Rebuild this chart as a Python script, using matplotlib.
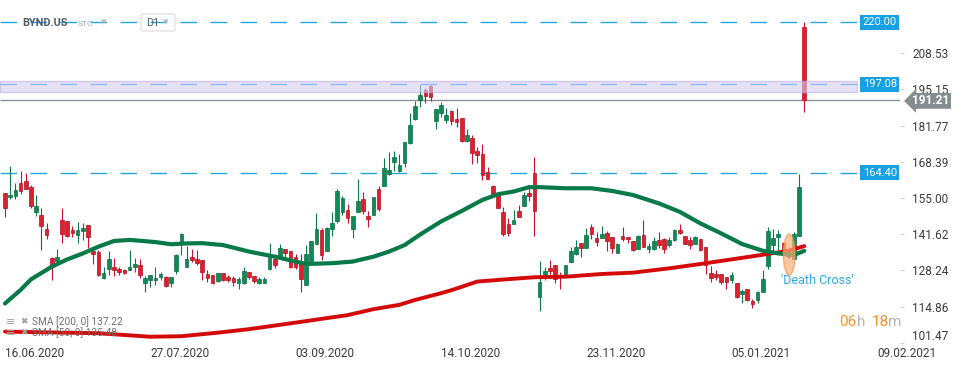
import numpy as np
import matplotlib.pyplot as plt
from matplotlib.patches import Rectangle, Ellipse, FancyBboxPatch

plt.rcParams['font.family'] = ['Roboto', 'DejaVu Sans']

# daily candles, BYND.US D1
opens = [156.7, 155.2, 155.9, 160.4, 161.2, 158.9, 149.95, 148.6, 143.4, 132.7,
         131.8, 146.7, 146.4, 143.2, 141.5, 142.9, 145.1, 135.4, 134.9, 125.5,
         128.6, 129.4, 128.6, 128.3, 128.5, 129.6, 130.1, 123.5, 124.8, 124.5,
         125.9, 125.9, 123.7, 128.1, 137.9, 129.6, 133.3, 132.3, 132.0, 126.8,
         126.4, 124.2, 127.3, 125.8, 125.3, 123.7, 123.7, 127.7, 126.2, 123.7,
         123.7, 128.8, 132.3, 133.7, 136.0, 135.3, 133.1, 131.0, 123.0, 131.8,
         138.1, 143.2, 135.5, 143.7, 146.6, 150.0, 150.6, 143.7, 150.0, 154.6,
         148.5, 148.7, 158.5, 159.4, 164.0, 168.4, 165.1, 167.8, 175.2, 184.2,
         191.2, 194.9, 196.4, 183.6, 186.3, 183.8, 187.0, 184.2, 184.4, 176.2,
         177.1, 172.4, 171.3, 164.5, 159.4, 156.1, 149.7, 145.4, 145.5, 150.2,
         152.2, 156.7, 164.1, 118.5, 126.4, 129.0, 130.1, 126.6, 126.2, 131.5,
         134.2, 138.3, 136.4, 144.3, 140.2, 140.1, 141.9, 140.5, 134.8, 141.0,
         140.5, 139.0, 136.0, 141.2, 136.0, 136.3, 139.5, 139.7, 137.6, 139.5,
         143.2, 141.0, 139.4, 138.1, 139.7, 136.8, 127.2, 126.9, 126.8, 125.8,
         124.7, 123.5, 119.4, 121.2, 116.9, 117.2, 120.4, 129.9, 137.8, 140.7,
         138.2, 136.0, 132.5, 141.1, 218.3]
highs = [157.0, 166.8, 160.4, 164.9, 164.1, 159.7, 156.0, 151.2, 145.6, 133.3,
         136.0, 151.2, 146.4, 144.7, 146.0, 145.9, 145.1, 136.4, 135.8, 129.4,
         135.5, 132.7, 129.4, 128.9, 135.8, 132.7, 132.5, 126.0, 126.7, 129.4,
         127.8, 126.0, 125.7, 134.2, 141.9, 137.3, 136.0, 135.8, 132.0, 128.4,
         126.4, 127.2, 127.3, 126.6, 126.2, 125.9, 129.4, 127.7, 126.2, 125.8,
         125.8, 138.3, 134.3, 138.0, 136.0, 135.3, 134.3, 134.3, 137.6, 139.0,
         149.3, 143.8, 144.4, 149.7, 158.5, 155.7, 152.8, 148.4, 162.0, 157.1,
         150.2, 155.4, 159.4, 169.8, 172.1, 172.5, 171.3, 175.7, 186.5, 191.0,
         196.6, 195.5, 196.8, 187.9, 190.4, 188.1, 187.5, 188.3, 184.4, 180.4,
         178.2, 174.0, 175.0, 166.3, 159.7, 157.0, 151.7, 147.5, 150.6, 152.4,
         157.2, 158.9, 170.2, 131.7, 129.5, 132.0, 130.1, 127.7, 130.2, 136.8,
         139.5, 138.5, 143.9, 145.4, 142.4, 144.6, 142.9, 140.5, 138.2, 144.2,
         140.5, 139.0, 141.2, 146.9, 138.5, 140.7, 142.4, 140.1, 140.5, 143.5,
         145.3, 141.0, 140.5, 141.0, 139.7, 136.8, 129.9, 128.4, 126.8, 125.8,
         127.6, 123.5, 121.2, 121.2, 117.5, 120.5, 128.3, 144.4, 143.4, 143.2,
         138.9, 137.0, 142.6, 163.9, 220.0]
lows = [147.9, 154.5, 154.6, 156.5, 158.2, 151.4, 148.5, 135.8, 139.9, 124.7,
        131.6, 138.5, 140.7, 140.5, 138.5, 139.5, 136.4, 130.7, 126.2, 125.2,
        126.5, 126.2, 126.5, 126.9, 128.4, 127.8, 125.3, 120.4, 122.2, 123.0,
        124.7, 122.1, 122.2, 126.8, 133.9, 129.4, 131.3, 130.2, 124.7, 124.1,
        123.1, 124.1, 124.3, 123.8, 122.6, 121.3, 123.2, 125.1, 123.7, 123.2,
        123.5, 128.5, 129.3, 133.3, 133.3, 129.3, 128.6, 120.4, 123.0, 131.8,
        138.1, 132.1, 135.5, 141.0, 145.9, 148.6, 145.9, 140.2, 150.0, 149.2,
        144.4, 148.6, 150.3, 159.4, 163.5, 165.1, 164.6, 166.6, 174.9, 183.8,
        188.5, 190.2, 191.0, 180.6, 185.1, 182.8, 182.0, 181.1, 175.7, 175.7,
        167.6, 168.1, 161.7, 162.0, 155.5, 151.4, 141.1, 140.9, 145.5, 148.1,
        152.2, 154.0, 141.1, 113.4, 124.7, 126.3, 123.5, 121.4, 125.9, 131.5,
        133.9, 133.3, 136.4, 140.0, 137.4, 140.1, 135.5, 134.6, 134.6, 139.2,
        138.2, 135.5, 136.0, 136.8, 134.6, 135.8, 136.4, 134.6, 137.0, 139.2,
        141.7, 137.9, 136.0, 137.9, 135.5, 126.9, 123.8, 124.5, 123.2, 121.4,
        123.7, 118.2, 116.3, 117.0, 114.2, 116.1, 120.1, 128.9, 134.3, 135.8,
        133.9, 132.7, 132.5, 141.1, 186.9]
closes = [151.4, 156.2, 157.9, 157.7, 158.5, 152.2, 151.9, 144.8, 141.4, 129.6,
          133.3, 141.8, 140.8, 142.2, 143.1, 144.0, 140.7, 134.4, 126.5, 127.2,
          132.3, 128.4, 127.8, 127.4, 129.4, 130.5, 126.7, 125.4, 126.7, 125.5,
          126.8, 122.5, 125.7, 133.8, 141.6, 132.3, 132.0, 131.1, 127.7, 125.5,
          123.7, 127.2, 124.5, 124.7, 124.0, 125.0, 127.9, 125.7, 124.2, 125.0,
          125.0, 133.3, 130.2, 136.4, 134.6, 129.4, 129.6, 125.2, 134.3, 139.0,
          143.6, 134.1, 143.8, 145.8, 157.6, 155.0, 147.7, 148.4, 153.9, 150.2,
          147.4, 155.4, 151.1, 166.1, 165.5, 170.2, 167.2, 175.7, 182.0, 189.0,
          193.1, 192.8, 192.2, 187.9, 189.4, 185.7, 183.6, 183.1, 176.1, 178.3,
          171.5, 171.0, 163.4, 162.1, 156.1, 151.4, 141.8, 142.2, 146.9, 148.1,
          156.0, 155.9, 150.3, 124.0, 127.9, 128.1, 124.9, 126.1, 130.2, 135.3,
          137.0, 136.4, 141.3, 141.6, 138.8, 141.7, 139.2, 136.6, 138.0, 140.0,
          139.7, 135.8, 141.0, 137.0, 137.1, 139.0, 137.6, 136.3, 139.5, 143.2,
          142.2, 138.1, 137.8, 140.6, 135.8, 130.2, 125.4, 125.7, 123.9, 123.8,
          126.4, 118.4, 120.5, 117.4, 115.9, 120.1, 125.1, 142.8, 140.2, 141.6,
          135.8, 133.3, 141.7, 158.9, 191.21]

# moving averages, sampled along the chart (bar index -> value)
sma50_idx = [0, 3, 5, 9, 12, 15, 18, 21, 24, 26, 29, 32, 35, 38, 42, 47, 52, 56, 58, 63,
             67, 71, 74, 77, 80, 84, 88, 92, 95, 98, 101, 103, 108, 113, 117, 121, 126,
             130, 134, 138, 142, 146, 149, 152, 154]
sma50_val = [116.0, 121.0, 124.9, 129.6, 132.3, 134.5, 137.0, 139.1, 139.5, 139.2, 138.7,
             137.9, 138.2, 138.3, 137.6, 135.2, 133.3, 131.5, 130.6, 130.9, 131.5, 133.3,
             135.2, 137.6, 141.5, 146.3, 150.2, 154.3, 156.4, 157.4, 159.0, 159.0, 158.6,
             158.6, 157.6, 156.1, 153.0, 149.9, 145.6, 141.9, 138.0, 135.5, 134.5, 133.9,
             135.48]
sma200_idx = [0, 18, 28, 34, 41, 47, 57, 66, 71, 76, 79, 84, 86, 91, 95, 97, 102, 108, 115,
              121, 128, 134, 140, 147, 151, 154]
sma200_val = [105.6, 105.0, 103.7, 103.9, 105.2, 106.5, 109.2, 111.7, 113.9, 115.5, 117.3,
              119.8, 120.9, 124.1, 124.7, 125.0, 125.7, 125.9, 126.9, 127.4, 129.0, 130.6,
              132.3, 134.3, 135.5, 137.22]

levels = [220.00, 197.08, 164.40]
zone_low, zone_high = 194.08, 198.37
last_price = 191.21
y_ticks = [208.53, 195.15, 181.77, 168.39, 155.00, 141.62, 128.24, 114.86, 101.47]
date_idx = [0, 28, 56, 84, 112, 140, 168]
date_labels = ['16.06.2020', '27.07.2020', '03.09.2020', '14.10.2020',
               '23.11.2020', '05.01.2021', '09.02.2021']
cross_idx, cross_price = 151.1, 134.1

W, H = 970, 368
fig = plt.figure(figsize=(W / 100, H / 100), dpi=100)
ax = fig.add_axes([0, 1 - 343 / H, 900 / W, 343 / H])
x_lo, x_hi = -0.96, 172.45
ax.set_xlim(x_lo, x_hi)
ax.set_ylim(101.39, 228.2)
for s in ax.spines.values():
    s.set_visible(False)

o = np.array(opens); h = np.array(highs); l = np.array(lows); c = np.array(closes)
idx = np.arange(len(o))
up = c >= o
body_col = np.where(up, '#108a57', '#dd1f2e')
edge_col = np.where(up, '#0a6d44', '#b0121f')
ax.vlines(idx, l, h, colors=np.where(up, '#0b7a4b', '#c8142a'), lw=0.8, zorder=2)
ax.bar(idx, np.maximum(np.abs(c - o), 0.35), bottom=np.minimum(o, c), width=0.7,
       color=body_col, edgecolor=edge_col, linewidth=0.5, zorder=2)

# SMA lines
ax.plot(sma200_idx, sma200_val, color='#d40a0a', lw=2.8, solid_capstyle='round', zorder=3)
ax.plot(sma50_idx, sma50_val, color='#087a4a', lw=3.0, solid_capstyle='round', zorder=3)

# horizontal levels
line_end = (857 - 5) / 5.19
ax.hlines(levels, x_lo, line_end, colors='#25a5e6', lw=1.0,
          linestyles=[(0, (12, 9.6))], zorder=1.5)
ax.hlines(last_price, x_lo, x_hi, colors='#8a9196', lw=1.0, zorder=1.5)
ax.add_patch(Rectangle((x_lo, zone_low), line_end - x_lo, zone_high - zone_low,
                       facecolor='#d8cdf0', edgecolor='#bfaee6', alpha=0.6, lw=1, zorder=4))

# right-side tags
for v in levels:
    ax.text((880 - 5) / 5.19, v, f'{v:.2f}', ha='center', va='center', color='white',
            fontsize=8, clip_on=False, zorder=10,
            bbox=dict(boxstyle='square,pad=0.22', fc='#18a0e5', ec='none'))
ax.text((931 - 5) / 5.19, last_price - 0.3, f'{last_price:.2f}', ha='center', va='center',
        color='white', fontsize=8.5, fontweight='bold', clip_on=False, zorder=10,
        bbox=dict(boxstyle='larrow,pad=0.12', fc='#858d91', ec='none'))

# axes ticks
ax.yaxis.tick_right()
ax.set_yticks(y_ticks)
ax.set_yticklabels([f'{v:.2f}' for v in y_ticks])
ax.tick_params(axis='y', length=3, color='#d5d5d5', pad=6, labelsize=8.5, labelcolor='#3a3a3a')
ax.get_yticklabels()[-1].set_va('bottom')
ax.set_xticks(date_idx)
ax.set_xticklabels(date_labels)
ax.tick_params(axis='x', length=0, pad=3, labelsize=8.5, labelcolor='#3a3a3a')
for t in ax.get_xticklabels():
    t.set_ha('left')

# death cross marker
ax.add_patch(Ellipse((cross_idx, cross_price), 2.25, 15.2, facecolor='#f8b07a',
                     edgecolor='#f39a4a', alpha=0.7, lw=1, zorder=6))
ax.text((781 - 5) / 5.19, 124.4, "'Death Cross'", color='#31a9e6', fontsize=9,
        ha='left', va='center', zorder=7)


def px(x, y):
    return x / W, 1 - y / H


# header
fig.text(*px(22, 23), 'BYND.US', fontsize=7.8, fontweight='bold', color='#4f5b66', va='center')
fig.text(*px(78, 24), 'STC', fontsize=6, color='#9ba4a9', va='center')
fig.text(*px(101, 22), '▾', fontsize=8, color='#b5bcc1', va='center',
         family=['DejaVu Sans'])
fig.patches.append(FancyBboxPatch(px(141, 31), 34 / W, 17 / H,
                                  boxstyle='round,pad=0,rounding_size=0.004',
                                  transform=fig.transFigure, fc='none', ec='#dcdcdc', lw=0.8))
fig.text(*px(146, 23), 'D1', fontsize=7.8, color='#4f5b66', va='center')
fig.text(*px(163, 22), '▾', fontsize=8, color='#b5bcc1', va='center',
         family=['DejaVu Sans'])

# indicator legend
for yy, lab in [(322, 'SMA [200, 0] 137.22'), (333, 'SMA [50, 0] 135.48')]:
    fig.text(*px(6, yy), '≡', fontsize=8, color='#a0a0a0', va='center', family=['DejaVu Sans'])
    fig.text(*px(20, yy), '✖', fontsize=6.5, color='#a0a0a0', va='center', family=['DejaVu Sans'])
    fig.text(*px(32, yy), lab, fontsize=7.3, color='#6f6f6f', va='center')

# candle countdown
for xx, s, col in [(839, '06', '#f7931e'), (857, 'h', '#b4b4b4'),
                   (872, '18', '#f7931e'), (888, 'm', '#b4b4b4')]:
    fig.text(*px(xx, 322), s, fontsize=11, color=col, va='center')

fig.savefig('out.png', dpi=100)
